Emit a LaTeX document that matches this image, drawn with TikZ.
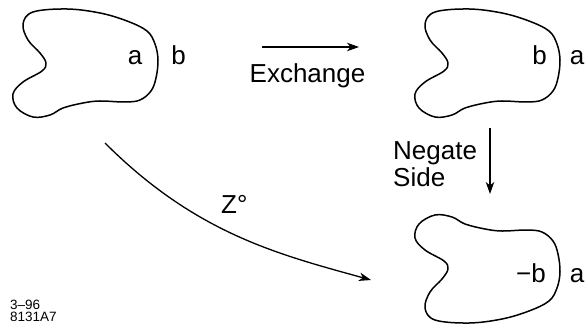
\documentclass[tikz,border=0pt]{standalone}
\usepackage{fontspec}
\setmainfont{Liberation Sans}
\usetikzlibrary{arrows.meta}
\tikzset{
  outline/.style={line width=1.5pt, line join=round},
  lbl/.style={inner sep=0pt, anchor=base, font=\fontsize{26}{29}\selectfont},
  idtext/.style={inner sep=0pt, anchor=base west, font=\fontsize{13.5}{13.5}\selectfont},
  conn/.style={line width=1.3pt, -{Stealth[length=12pt,width=8.5pt,inset=3.5pt]}},
  blob/.pic={
    \draw[outline] plot[smooth cycle, tension=0.6] coordinates {
      (33,12) (67,9) (100,13) (127,21) (147,31) (155,44) (158,60) (156,78)
      (151,91) (140,100) (125,102) (100,101) (83,103) (63,108) (50,115)
      (33,117) (17,108) (13,94) (23,82) (42,71) (46,63) (40,53) (28,40) (23,24)};
  }
}
\begin{document}
\begin{tikzpicture}[x=1pt, y=-1pt]
\useasboundingbox (0,0) rectangle (587,329);
% shapes
\pic (s1) at (0,0) {blob};
\pic (s2) at (402,0) {blob};
\pic[yscale=-1] (s3) at (402,332) {blob};
% labels
\node[lbl] (a1) at (135,65) {a};
\node[lbl] (b1) at (178.5,65) {b};
\node[lbl] (b2) at (539.5,65) {b};
\node[lbl] (a2) at (577,65) {a};
\node[lbl] (b3) at (531,282) {−b};
\node[lbl] (a3) at (577,282) {a};
% connectors
\coordinate (ex1) at (262,47);
\coordinate (ex2) at (359,47);
\draw[conn] (ex1) -- (ex2);
\node[lbl] (exch) at (307.5,83) {Exchange};
\coordinate (ng1) at (490,128);
\coordinate (ng2) at (490,194);
\draw[conn] (ng1) -- (ng2);
\node[lbl, anchor=base west] (neg) at (393,159) {Negate};
\node[lbl, anchor=base west] (side) at (393,186) {Side};
\coordinate (z1) at (105,143);
\coordinate (z2) at (371,280);
\draw[conn] (z1) .. controls (196,234) and (279,254.5) .. (z2);
\node[lbl, anchor=base west] (zl) at (221,213) {Z°};
% id
\node[idtext] (id1) at (10,309) {3–96};
\node[idtext] (id2) at (10,321) {8131A7};
\end{tikzpicture}
\end{document}
